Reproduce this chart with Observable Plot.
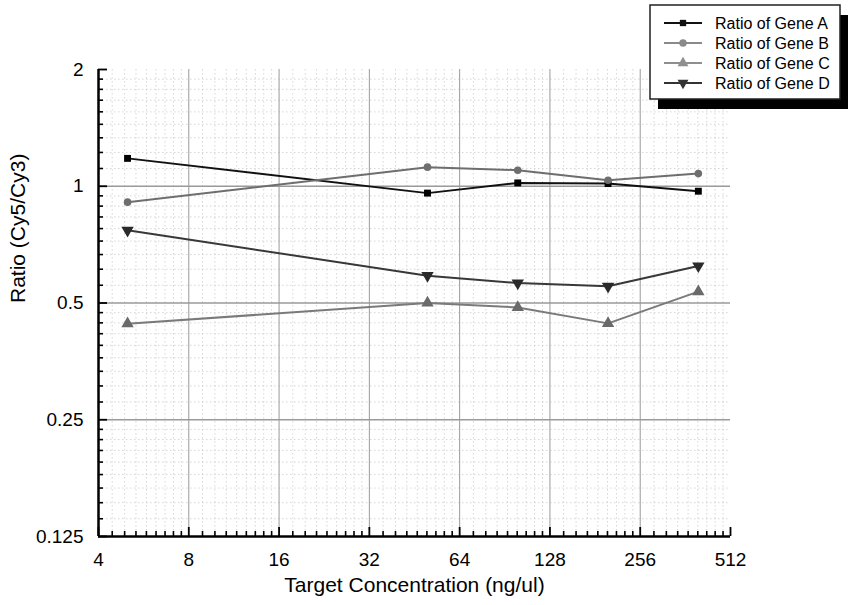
<!DOCTYPE html>
<html>
<head>
<meta charset="utf-8">
<script src="https://cdn.jsdelivr.net/npm/d3@7"></script>
<script src="https://cdn.jsdelivr.net/npm/@observablehq/plot@0.6"></script>
<style>
  body { margin: 0; background: #fff; }
  #chart { width: 850px; height: 605px; }
</style>
</head>
<body>
<div id="chart"></div>
<script>
// ---- data ----
const concentrations = [5, 50, 100, 200, 400];
const geneA = [1.18, 0.96, 1.02, 1.016, 0.971];
const geneB = [0.91, 1.12, 1.10, 1.036, 1.078];
const geneC = [0.442, 0.50, 0.487, 0.443, 0.535];
const geneD = [0.77, 0.588, 0.563, 0.552, 0.623];
const seriesNames = ["Ratio of Gene A", "Ratio of Gene B", "Ratio of Gene C", "Ratio of Gene D"];
const xTickValues = [4, 8, 16, 32, 64, 128, 256, 512];
const xTickLabels = ["4", "8", "16", "32", "64", "128", "256", "512"];
const yTickValues = [0.125, 0.25, 0.5, 1, 2];
const yTickLabels = ["0.125", "0.25", "0.5", "1", "2"];
const xTitle = "Target Concentration (ng/ul)";
const yTitle = "Ratio (Cy5/Cy3)";

// ---- layout ----
const W = 850, H = 605, mL = 98, mR = 120, mT = 69, mB = 69;
const plotW = W - mL - mR, plotH = H - mT - mB;
const FONT = "'Liberation Sans', Arial, Helvetica, sans-serif";

// minor ticks: each octave split into 9 linear steps
function minorTicks(majors) {
  const out = [];
  for (let i = 0; i < majors.length - 1; i++) {
    const b = majors[i];
    for (let k = 1; k < 9; k++) out.push(b * (1 + k / 9));
  }
  return out;
}
const xMinor = minorTicks(xTickValues);
const yMinor = minorTicks(yTickValues);

const seriesValues = [geneA, geneB, geneC, geneD];
const seriesStyle = [
  {line: "#111111", fill: "#000000", symbol: "square", rotate: 0, r: 3.9, legendColor: "#111"},
  {line: "#6e6e6e", fill: "#6e6e6e", symbol: "circle", rotate: 0, r: 3.8, legendColor: "#8a8a8a"},
  {line: "#7a7a7a", fill: "#6a6a6a", symbol: "triangle", rotate: 0, r: 4.6, legendColor: "#8f8f8f"},
  {line: "#383838", fill: "#2a2a2a", symbol: "triangle", rotate: 180, r: 4.6, legendColor: "#333"}
];

const rows = seriesNames.flatMap((name, s) =>
  concentrations.map((c, i) => ({series: name, x: c, y: seriesValues[s][i]})));

const seriesMarks = seriesNames.flatMap((name, s) => {
  const st = seriesStyle[s];
  const data = rows.filter(r => r.series === name);
  return [
    Plot.line(data, {x: "x", y: "y", stroke: st.line, strokeWidth: 2}),
    Plot.dot(data, {x: "x", y: "y", symbol: st.symbol, fill: st.fill, stroke: "none", r: st.r, rotate: st.rotate})
  ];
});

const svg = Plot.plot({
  width: W, height: H,
  marginLeft: mL, marginRight: mR, marginTop: mT, marginBottom: mB,
  style: {fontFamily: FONT, background: "#fff", color: "#000"},
  x: {type: "log", base: 2, domain: [4, 512]},
  y: {type: "log", base: 2, domain: [0.125, 2]},
  marks: [
    // minor grid
    Plot.ruleX(xMinor, {stroke: "#c4c4c4", strokeWidth: 0.7, strokeDasharray: "1.5,2.5"}),
    Plot.ruleY(yMinor, {stroke: "#c4c4c4", strokeWidth: 0.7, strokeDasharray: "1.5,2.5"}),
    // major grid
    Plot.ruleX(xTickValues.slice(1, -1), {stroke: "#9a9a9a", strokeWidth: 1}),
    Plot.ruleY(yTickValues.slice(1, -1), {stroke: "#9a9a9a", strokeWidth: 1.3}),
    // data
    ...seriesMarks,
    // inward ticks
    Plot.ruleX(xMinor, {stroke: "#000", strokeWidth: 1.6, insetTop: plotH - 5}),
    Plot.ruleX(xTickValues, {stroke: "#000", strokeWidth: 1.8, insetTop: plotH - 9}),
    Plot.ruleY(yMinor, {stroke: "#000", strokeWidth: 1.6, insetRight: plotW - 5}),
    Plot.ruleY(yTickValues, {stroke: "#000", strokeWidth: 1.8, insetRight: plotW - 9}),
    // axis lines
    Plot.ruleX([4], {stroke: "#000", strokeWidth: 2.5}),
    Plot.ruleY([0.125], {stroke: "#000", strokeWidth: 2.5}),
    // tick labels
    Plot.axisX(xTickValues, {tickSize: 0, tickPadding: 16, fontSize: 19, label: null,
      tickFormat: d => xTickLabels[xTickValues.indexOf(d)]}),
    Plot.axisY(yTickValues, {tickSize: 0, tickPadding: 15, fontSize: 19, label: null,
      tickFormat: d => yTickLabels[yTickValues.indexOf(d)]}),
    // titles
    Plot.text([xTitle], {frameAnchor: "bottom", dy: 55, fontSize: 21, fill: "#000"}),
    Plot.text([yTitle], {frameAnchor: "left", rotate: -90, dx: -80, fontSize: 21, fill: "#000"})
  ]
});

// ---- legend (overlaid at top right) ----
const g = d3.select(svg).append("g").attr("class", "legend").attr("text-anchor", "start");
const box = {x: 650, y: 5, w: 190, h: 94};
g.append("rect").attr("x", box.x + 8).attr("y", box.y + 10).attr("width", box.w).attr("height", box.h).attr("fill", "#000");
g.append("rect").attr("x", box.x).attr("y", box.y).attr("width", box.w).attr("height", box.h)
  .attr("fill", "#fff").attr("stroke", "#222").attr("stroke-width", 1.5);
const legendSymbols = [d3.symbolSquare, d3.symbolCircle, d3.symbolTriangle, d3.symbolTriangle];
const legendSizes = [40, 44, 52, 52];
seriesNames.forEach((name, i) => {
  const cy = box.y + 18 + i * 20;
  const col = seriesStyle[i].legendColor;
  g.append("line").attr("x1", box.x + 14).attr("x2", box.x + 52).attr("y1", cy).attr("y2", cy)
    .attr("stroke", col).attr("stroke-width", 2);
  g.append("path").attr("d", d3.symbol(legendSymbols[i], legendSizes[i])())
    .attr("transform", `translate(${box.x + 33},${cy}) rotate(${seriesStyle[i].rotate})`)
    .attr("fill", col);
  g.append("text").attr("x", box.x + 65).attr("y", cy).attr("dy", "0.35em")
    .attr("text-anchor", "start")
    .attr("font-size", 16).attr("font-family", FONT).attr("fill", "#000").text(name);
});

document.getElementById("chart").appendChild(svg);
</script>
</body>
</html>
